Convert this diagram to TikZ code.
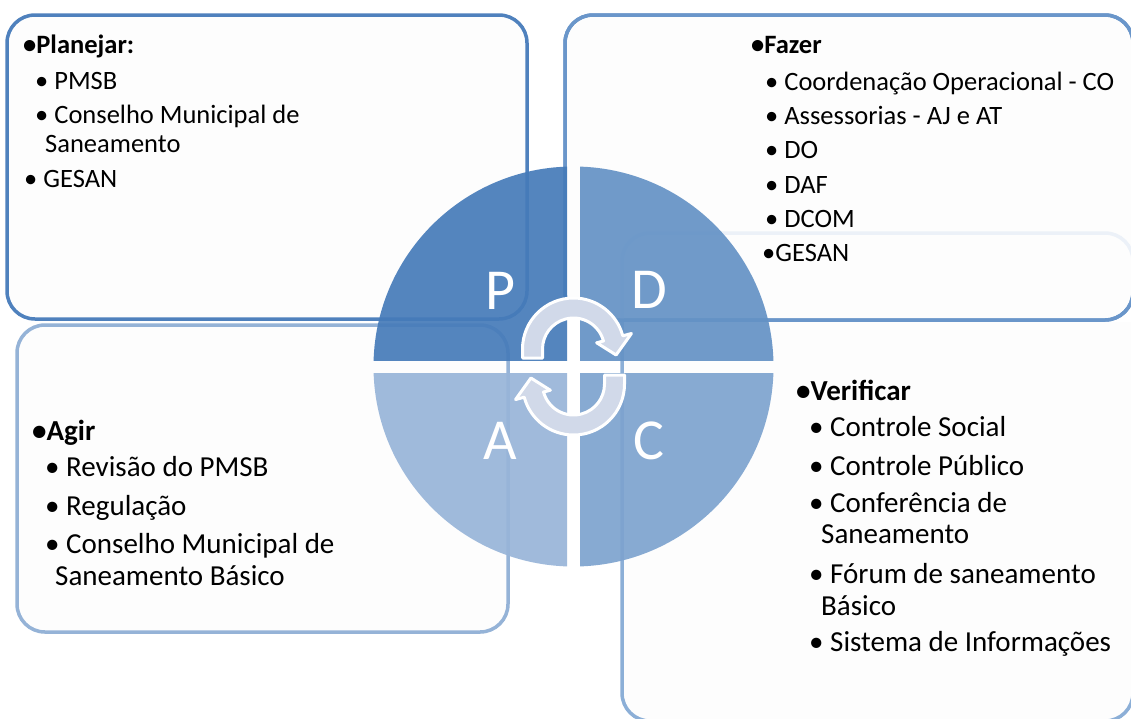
\documentclass[tikz,border=0pt]{standalone}
\usepackage{fontspec}
\setmainfont{Carlito}
\usetikzlibrary{calc}
\definecolor{bP}{RGB}{79,129,189}
\definecolor{bD}{RGB}{106,150,202}
\definecolor{bA}{RGB}{149,179,215}
\definecolor{bC}{RGB}{140,175,215}
\definecolor{bCfaint}{RGB}{236,241,248}
\definecolor{qP}{RGB}{70,123,185}
\definecolor{qD}{RGB}{100,146,197}
\definecolor{qC}{RGB}{125,163,207}
\definecolor{qA}{RGB}{152,181,217}
\definecolor{arrowfill}{RGB}{209,217,233}
\definecolor{boxfill}{RGB}{253,253,253}
\tikzset{
  boxline/.style={rounded corners=28pt, line width=3.5pt},
  txt/.style={anchor=base west, inner sep=0pt, font=\fontsize{26.5}{30}\selectfont},
  txtb/.style={anchor=base west, inner sep=0pt, font=\fontsize{26.5}{30}\selectfont\bfseries},
  txtl/.style={anchor=base west, inner sep=0pt, font=\fontsize{29}{33}\selectfont},
  txtlb/.style={anchor=base west, inner sep=0pt, font=\fontsize{29}{33}\selectfont\bfseries},
  letter/.style={anchor=base, inner sep=0pt, text=white, font=\fontsize{58}{60}\selectfont},
  quad/.style={fill opacity=0.92},
  cyc/.style={fill=arrowfill, draw=white, line width=3pt, line join=round},
  cycarrow/.pic={
    \filldraw[cyc] (-51,9) -- (-51,0) arc[start angle=180, end angle=345, radius=51]
      -- (345:60) -- (8:43) -- (345:24) -- (345:31)
      arc[start angle=345, end angle=180, radius=31] -- (-31,9) -- cycle;
  }
}
\begin{document}
\begin{tikzpicture}[x=1pt, y=-1pt]
\useasboundingbox[fill=white] (0,0) rectangle (1131,718);

% A box
\draw[boxline, draw=bA, fill=boxfill] (17,325) rectangle (508,632);
% P box
\draw[boxline, draw=bP, fill=boxfill] (7,15) rectangle (527,319);
% D box
\draw[boxline, draw=bD, fill=boxfill] (565,15) rectangle (1133,320);
% C box faint upper part
\begin{scope}
  \clip (600,200) rectangle (1140,322);
  \draw[boxline, draw=bCfaint] (622,233) rectangle (1133,721);
\end{scope}
% C box lower part
\begin{scope}
  \clip (600,322) rectangle (1140,740);
  \draw[boxline, draw=bC, fill=boxfill] (622,233) rectangle (1133,721);
\end{scope}
% D box border again on top
\draw[boxline, draw=bD] (565,15) rectangle (1133,320);

% quadrants
\begin{scope}
  \clip (360,150) rectangle (567,360);
  \fill[qP, quad] (573.5,366.5) circle[radius=200];
\end{scope}
\begin{scope}
  \clip (580,150) rectangle (790,360);
  \fill[qD, quad] (573.5,366.5) circle[radius=200];
\end{scope}
\begin{scope}
  \clip (360,373) rectangle (567,580);
  \fill[qA, quad] (573.5,366.5) circle[radius=200];
\end{scope}
\begin{scope}
  \clip (580,373) rectangle (790,580);
  \fill[qC, quad] (573.5,366.5) circle[radius=200];
\end{scope}

% letters
\node[letter] (lP) at (500,309) {P};
\node[letter] (lD) at (649,308) {D};
\node[letter] (lA) at (500,459) {A};
\node[letter] (lC) at (649,459) {C};

% cycle arrows
\pic (arrtop) at (573.5,349) {cycarrow};
\pic[rotate=180] (arrbot) at (573.5,384) {cycarrow};

% P box text
\node[txtb] (p0) at (23,53) {•Planejar:};
\node[txt] (p1) at (35,89) {• PMSB};
\node[txt] (p2) at (35,123) {• Conselho Municipal de};
\node[txt] (p3) at (45,152) {Saneamento};
\node[txt] (p4) at (24,187) {• GESAN};

% D box text
\node[txtb] (d0) at (751,53) {•Fazer};
\node[txt] (d1) at (765,90) {• Coordenação Operacional - CO};
\node[txt] (d2) at (765,124) {• Assessorias - AJ e AT};
\node[txt] (d3) at (765,158.5) {• DO};
\node[txt] (d4) at (765,193) {• DAF};
\node[txt] (d5) at (765,227) {• DCOM};
\node[txt] (d6) at (762,261.5) {•GESAN};

% C box text
\node[txtlb] (c0) at (796,400) {•Verificar};
\node[txtl] (c1) at (809,436.7) {• Controle Social};
\node[txtl] (c2) at (809,475) {• Controle Público};
\node[txtl] (c3) at (809,512.7) {• Conferência de};
\node[txtl] (c4) at (821,543) {Saneamento};
\node[txtl] (c5) at (809,583) {• Fórum de saneamento};
\node[txtl] (c6) at (821,615) {Básico};
\node[txtl] (c7) at (809,651.7) {• Sistema de Informações};

% A box text
\node[txtlb] (a0) at (32,440) {•Agir};
\node[txtl] (a1) at (45,476.7) {• Revisão do PMSB};
\node[txtl] (a2) at (45,515) {• Regulação};
\node[txtl] (a3) at (45,553) {• Conselho Municipal de};
\node[txtl] (a4) at (55,585) {Saneamento Básico};
\end{tikzpicture}
\end{document}
